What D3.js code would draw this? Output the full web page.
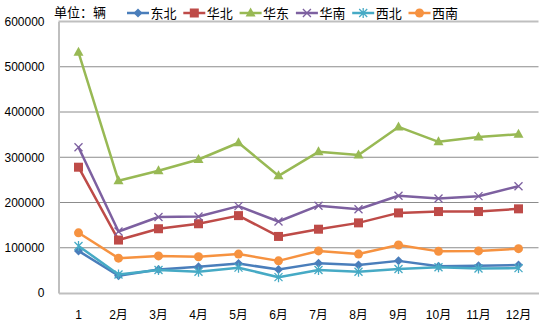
<!DOCTYPE html>
<html><head><meta charset="utf-8">
<script src="https://cdn.jsdelivr.net/npm/d3@7"></script>
<style>body{margin:0;background:#fff}svg{display:block}</style>
</head><body>
<svg id="c" width="539" height="327"></svg>
<script>
const categories = ["1","2月","3月","4月","5月","6月","7月","8月","9月","10月","11月","12月"];
const seriesNames = ["东北","华北","华东","华南","西北","西南"];
const dongbei = [93000,38000,52000,58000,65000,52000,66000,62000,71000,59000,60000,62000];
const huabei  = [278000,117000,142000,153000,171000,125000,141000,155000,177000,180000,180000,186000];
const huadong = [532000,248000,270000,295000,332000,259000,312000,305000,367000,334000,345000,351000];
const huanan  = [322000,136000,168000,169000,192000,158000,193000,185000,215000,209000,214000,236000];
const xibei   = [104000,41000,51000,47000,56000,35000,51000,47000,53000,57000,54000,55000];
const xinan   = [133000,77000,82000,80000,86000,71000,93000,86000,106000,92000,93000,98000];
const yTicks = [0,100000,200000,300000,400000,500000,600000];
const unitLabel = "单位：辆";

(function(){
const seriesValues = [dongbei,huabei,huadong,huanan,xibei,xinan];
const colors = ["#4A7EBB","#BE4B48","#98B954","#7D60A0","#46AAC5","#F69240"];
const markers = ["diamond","square","triangle","x","star","circle"];

const svg = d3.select("#c");
const pL = 58.5, pR = 538.5, pT = 21.5, pB = 293;
const x = d3.scaleBand().domain(categories).range([pL,pR]);
const y = d3.scaleLinear().domain([0,600000]).range([pB,pT]);
const cx = d => x(d) + x.bandwidth()/2;

svg.append("g").selectAll("line").data(yTicks.filter(t=>t>0&&t<600000)).join("line")
  .attr("x1",pL).attr("x2",pR).attr("y1",d=>y(d)).attr("y2",d=>y(d))
  .attr("stroke","#8C8C8C").attr("stroke-width",1);
svg.append("line").attr("x1",pL).attr("x2",pR).attr("y1",y(600000)).attr("y2",y(600000))
  .attr("stroke","#BFBFBF").attr("stroke-width",2);

const yAxis = d3.axisLeft(y).tickValues(yTicks).tickSize(0).tickPadding(14).tickFormat(d=>String(d));
const gy = svg.append("g").attr("transform",`translate(${pL},0)`).call(yAxis);
gy.select(".domain").attr("stroke","#BFBFBF").attr("stroke-width",2);
gy.selectAll("text").attr("font-family","Arial, 'Liberation Sans', sans-serif").attr("font-size",12).attr("fill","#000");

const xAxis = d3.axisBottom(x).tickSize(0).tickPadding(17);
const gx = svg.append("g").attr("transform",`translate(0,${pB})`).call(xAxis);
gx.select(".domain").attr("stroke","#BFBFBF").attr("stroke-width",2);
gx.selectAll("text").attr("font-family","Arial, 'Liberation Sans', 'Noto Sans CJK SC', sans-serif").attr("font-size",12).attr("fill","#000");

function drawMarker(g, type, color, px, py){
  if(type==="diamond"){
    g.append("path").attr("d",`M${px},${py-4.5}L${px+4.5},${py}L${px},${py+4.5}L${px-4.5},${py}Z`).attr("fill",color);
  } else if(type==="square"){
    g.append("rect").attr("x",px-4.5).attr("y",py-4.5).attr("width",9).attr("height",9).attr("fill",color);
  } else if(type==="triangle"){
    g.append("path").attr("d",`M${px},${py-5.5}L${px+5},${py+3.5}L${px-5},${py+3.5}Z`).attr("fill",color);
  } else if(type==="circle"){
    g.append("circle").attr("cx",px).attr("cy",py).attr("r",4.5).attr("fill",color);
  } else if(type==="x"){
    g.append("path").attr("d",`M${px-4},${py-4}L${px+4},${py+4}M${px-4},${py+4}L${px+4},${py-4}`).attr("stroke",color).attr("stroke-width",1.3);
  } else if(type==="star"){
    g.append("path").attr("d",`M${px-4},${py-4}L${px+4},${py+4}M${px-4},${py+4}L${px+4},${py-4}M${px},${py-5}L${px},${py+5}`).attr("stroke",color).attr("stroke-width",1.3);
  }
}

const line = d3.line().x((d,i)=>cx(categories[i])).y(d=>y(d));
seriesValues.forEach((vals,si)=>{
  const g = svg.append("g");
  g.append("path").datum(vals).attr("d",line).attr("fill","none").attr("stroke",colors[si])
    .attr("stroke-width",2.5).attr("stroke-linejoin","round");
  vals.forEach((v,i)=>drawMarker(g, markers[si], colors[si], cx(categories[i]), y(v)));
});

svg.append("text").attr("x",54).attr("y",17).text(unitLabel)
  .attr("font-family","'Noto Sans CJK SC', sans-serif").attr("font-size",13).attr("fill","#000");
const lg = svg.append("g");
seriesNames.forEach((n,i)=>{
  const lx = 127 + i*56.3, ly = 13;
  lg.append("line").attr("x1",lx).attr("x2",lx+22).attr("y1",ly).attr("y2",ly).attr("stroke",colors[i]).attr("stroke-width",2.5);
  drawMarker(lg, markers[i], colors[i], lx+11, ly);
  lg.append("text").attr("x",lx+23.5).attr("y",ly+4.5).text(n)
    .attr("font-family","'Noto Sans CJK SC', sans-serif").attr("font-size",13).attr("fill","#000");
});
})();
</script>
</body></html>
